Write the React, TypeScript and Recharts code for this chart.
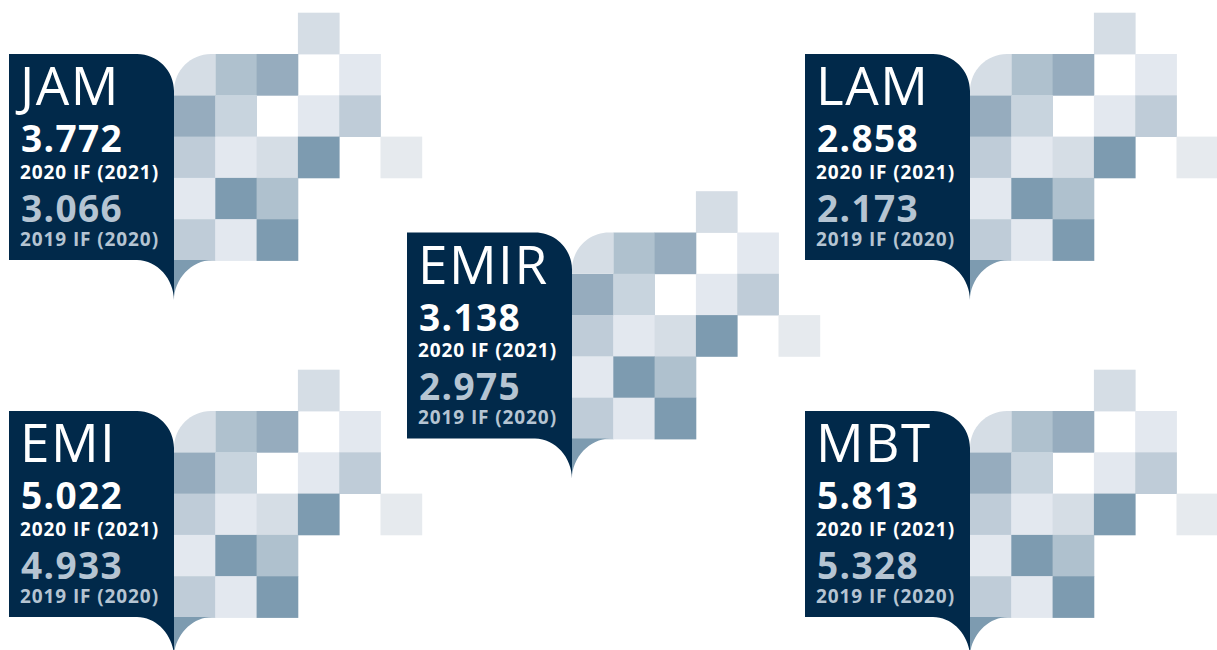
import React from 'react';
import { ScatterChart, Scatter, XAxis, YAxis } from 'recharts';

const journals = ['JAM', 'LAM', 'EMIR', 'EMI', 'MBT'];
const if2020 = [3.772, 2.858, 3.138, 5.022, 5.813];
const if2019 = [3.066, 2.173, 2.975, 4.933, 5.328];
const gridCol = [0, 2, 1, 0, 2];
const gridRow = [0, 0, 1, 2, 2];
const label2020 = '2020 IF (2021)';
const label2019 = '2019 IF (2020)';

// decorative pixel pattern to the right of each badge: [row, col, shade]
const pixelPattern: [number, number, number][] = [
  [-1, 3, 1],
  [0, 1, 4], [0, 2, 5], [0, 4, 0],
  [1, 0, 5], [1, 1, 2], [1, 3, 0], [1, 4, 3],
  [2, 0, 3], [2, 1, 0], [2, 2, 1], [2, 3, 6], [2, 5, 7],
  [3, 0, 0], [3, 1, 6], [3, 2, 4],
  [4, 0, 3], [4, 1, 0], [4, 2, 6],
];
const shades = ['#e3e8ef', '#d5dde5', '#c8d4de', '#bfccd8', '#afc1ce', '#96acbe', '#7d9bb0', '#e6eaee'];

const NAVY = '#01294a';
const PALE = '#b5c4d2';
const FONT = '"Open Sans", sans-serif';

const data = journals.map((name, i) => ({
  name,
  cur: if2020[i],
  prev: if2019[i],
  col: gridCol[i],
  row: gridRow[i],
}));

const CELL = 41.3;
const BOX_W = 165;
const BOX_H = 206;
const R = 37;
const K = 0.552 * R;

const Badge = (props: any) => {
  const { cx, cy, payload } = props;
  if (cx == null || cy == null) return null;
  const x0 = cx - BOX_W;
  const tip = cy + BOX_H + 40;
  const dark =
    `M${x0},${cy} L${cx - R},${cy} C${cx - R + K},${cy} ${cx},${cy + R - K} ${cx},${cy + R} ` +
    `L${cx},${tip} C${cx},${tip - K} ${cx - R + K},${cy + BOX_H} ${cx - R},${cy + BOX_H} ` +
    `L${x0},${cy + BOX_H} Z`;
  const firstCell =
    `M${cx},${cy + CELL} L${cx},${cy + R} C${cx},${cy + R - K} ${cx + R - K},${cy} ${cx + R},${cy} ` +
    `L${cx + CELL},${cy} L${cx + CELL},${cy + CELL} Z`;
  const lastCell =
    `M${cx},${cy + BOX_H} L${cx + R + 1},${cy + BOX_H} C${cx + R + 1 - K},${cy + BOX_H} ${cx},${tip - K} ${cx},${tip} Z`;
  const tx = x0 + 11;
  return (
    <g>
      {pixelPattern.map(([r, c, s], i) => (
        <rect key={i} x={cx + c * CELL} y={cy + r * CELL} width={CELL + 0.4} height={CELL + 0.4} fill={shades[s]} />
      ))}
      <path d={firstCell} fill={shades[1]} />
      <path d={lastCell} fill={shades[6]} />
      <path d={dark} fill={NAVY} />
      <text x={tx} y={cy + 51} fill="#fff" fontFamily={FONT} fontWeight={400} fontSize={53} letterSpacing={1.5}>
        {payload.name}
      </text>
      <text x={tx + 1} y={cy + 98} fill="#fff" fontFamily={FONT} fontWeight={700} fontSize={37} letterSpacing={1.4}>
        {payload.cur.toFixed(3)}
      </text>
      <text x={tx} y={cy + 124.5} fill="#fff" fontFamily={FONT} fontWeight={700} fontSize={19} letterSpacing={0.9}>
        {label2020}
      </text>
      <text x={tx + 1} y={cy + 167.5} fill={PALE} fontFamily={FONT} fontWeight={700} fontSize={37} letterSpacing={1.4}>
        {payload.prev.toFixed(3)}
      </text>
      <text x={tx} y={cy + 191.5} fill={PALE} fontFamily={FONT} fontWeight={700} fontSize={19} letterSpacing={0.9}>
        {label2019}
      </text>
    </g>
  );
};

export default function App() {
  return (
    <div style={{ position: 'absolute', left: 0, top: 0, background: '#fff' }}>
      <ScatterChart width={1217} height={650} margin={{ top: 54, left: 174, right: 247, bottom: 239 }}>
        <XAxis type="number" dataKey="col" domain={[0, 2]} hide />
        <YAxis type="number" dataKey="row" domain={[0, 2]} reversed hide />
        <Scatter data={data} shape={Badge} isAnimationActive={false} />
      </ScatterChart>
    </div>
  );
}
